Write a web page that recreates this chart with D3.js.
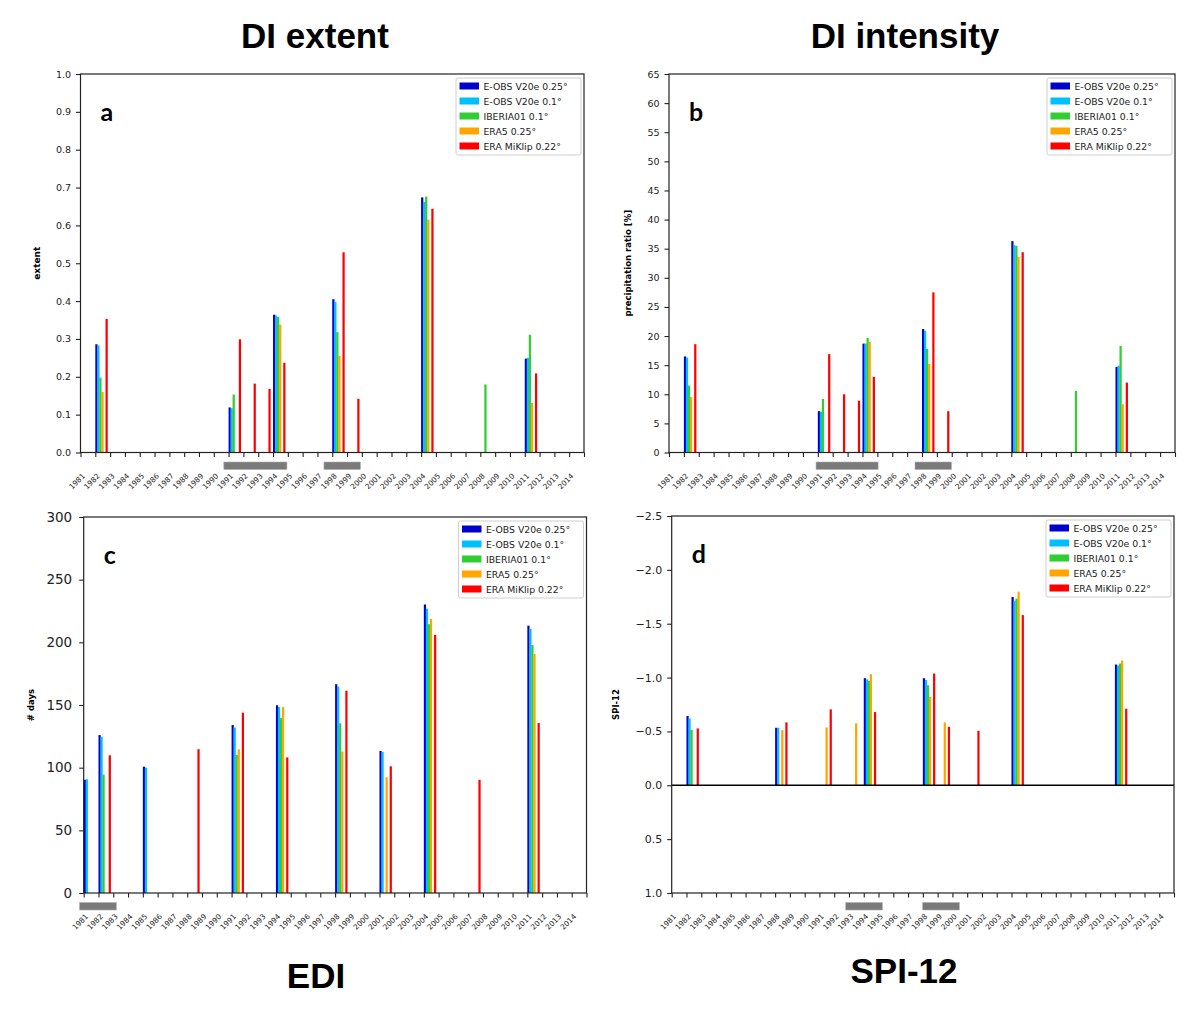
<!DOCTYPE html>
<html>
<head>
<meta charset="utf-8">
<script src="https://cdn.jsdelivr.net/npm/d3@7"></script>
<style>
  body { margin: 0; background: #fff; }
</style>
</head>
<body>
<svg id="chart" width="1200" height="1012" font-family="DejaVu Sans, sans-serif"></svg>
<script>
// series shared by all four panels
const seriesNames = ["E-OBS V20e 0.25°", "E-OBS V20e 0.1°", "IBERIA01 0.1°", "ERA5 0.25°", "ERA MiKlip 0.22°"];
const seriesColors = ["#0000cd", "#00bfff", "#32cd32", "#ffa500", "#ff0000"];
const yearTicks = d3.range(1981, 2016);
const yearLabels = d3.range(1981, 2015);

// a: DI extent
const yearsA = [1982, 1991, 1992, 1993, 1994, 1998, 1999, 2004, 2008, 2011];
const extEobs25 = [0.286, 0.119, 0, 0, 0.364, 0.405, 0, 0.674, 0, 0.248];
const extEobs01 = [0.283, 0.117, 0, 0, 0.362, 0.398, 0, 0.662, 0, 0.250];
const extIberia = [0.198, 0.153, 0, 0, 0.358, 0.318, 0, 0.676, 0.180, 0.311];
const extEra5   = [0.160, 0, 0, 0, 0.338, 0.255, 0, 0.615, 0, 0.131];
const extMiklip = [0.353, 0.299, 0.182, 0.168, 0.237, 0.529, 0.142, 0.644, 0, 0.209];
const periodsA = [[1990.68, 1994.94], [1997.44, 1999.9]];

// b: DI intensity
const yearsB = [1982, 1991, 1992, 1993, 1994, 1998, 1999, 2004, 2008, 2011];
const intEobs25 = [16.5, 7.1, 0, 0, 18.7, 21.2, 0, 36.3, 0, 14.7];
const intEobs01 = [16.3, 7.0, 0, 0, 18.7, 20.9, 0, 35.6, 0, 14.9];
const intIberia = [11.5, 9.2, 0, 0, 19.7, 17.8, 0, 35.5, 10.6, 18.3];
const intEra5   = [9.5, 0, 0, 0, 19.0, 15.2, 0, 33.6, 0, 8.3];
const intMiklip = [18.6, 16.9, 10.0, 8.9, 13.0, 27.5, 7.1, 34.4, 0, 12.0];
const periodsB = [[1990.88, 1995.05], [1997.53, 1999.98]];

// c: EDI (# days)
const yearsC = [1981, 1982, 1985, 1988, 1991, 1994, 1998, 2001, 2004, 2007, 2011];
const edEobs25 = [90.3, 126, 100.8, 0, 134, 149.8, 166.6, 113.3, 230.2, 0, 213.3];
const edEobs01 = [90.8, 124.6, 100, 0, 132, 148.4, 164.6, 112.6, 226.8, 0, 210.8];
const edIberia = [0, 94.5, 0, 0, 110.2, 139.5, 135.4, 0, 214.5, 0, 197.8];
const edEra5   = [0, 0, 0, 0, 114.7, 148.4, 112.8, 92.4, 218.7, 0, 190.8];
const edMiklip = [0, 109.9, 0, 114.7, 143.9, 108.2, 161.4, 101.1, 205.9, 90.3, 135.6];
const periodsC = [[1980.72, 1983.21]];

// d: SPI-12
const yearsD = [1982, 1988, 1991, 1993, 1994, 1998, 1999, 2001, 2004, 2011];
const spiEobs25 = [-0.643, -0.534, 0, 0, -0.994, -0.994, 0, 0, -1.748, -1.121];
const spiEobs01 = [-0.620, -0.534, 0, 0, -0.984, -0.978, 0, 0, -1.714, -1.112];
const spiIberia = [-0.515, 0, 0, 0, -0.969, -0.929, 0, 0, -1.733, -1.130];
const spiEra5   = [0, -0.512, -0.537, -0.575, -1.031, -0.820, -0.584, 0, -1.798, -1.158];
const spiMiklip = [-0.528, -0.584, -0.705, 0, -0.680, -1.037, -0.543, -0.506, -1.580, -0.711];
const periodsD = [[1992.78, 1995.26], [1997.99, 2000.47]];

// bar placement inside a year (years) and bar width
const barOffsets = [0, 0.135, 0.27, 0.41, 0.69];
const barWidth = 0.15;

const svg = d3.select("#chart");

const panels = [
  { letter: "a", left: 80.5, right: 584, top: 74, bottom: 452.5,
    yDomain: [0, 1], yTicks: d3.range(0, 1.01, 0.1), fmt: d3.format(".1f"), tickFont: 9.5, pad: 5,
    ylabel: "extent", ylabelX: 37, ylabelFont: 9,
    years: yearsA, series: [extEobs25, extEobs01, extIberia, extEra5, extMiklip], periods: periodsA },
  { letter: "b", left: 669, right: 1175, top: 74, bottom: 452.5,
    yDomain: [0, 65], yTicks: d3.range(0, 66, 5), fmt: d3.format("d"), tickFont: 9.5, pad: 5,
    ylabel: "precipitation ratio [%]", ylabelX: 628, ylabelFont: 8.5,
    years: yearsB, series: [intEobs25, intEobs01, intIberia, intEra5, intMiklip], periods: periodsB },
  { letter: "c", left: 83.7, right: 586.5, top: 517, bottom: 893,
    yDomain: [0, 300], yTicks: d3.range(0, 301, 50), fmt: d3.format("d"), tickFont: 13.5, pad: 7,
    ylabel: "# days", ylabelX: 31, ylabelFont: 8.5,
    years: yearsC, series: [edEobs25, edEobs01, edIberia, edEra5, edMiklip], periods: periodsC },
  { letter: "d", left: 671.7, right: 1174, top: 516, bottom: 893,
    yDomain: [1, -2.5], yTicks: d3.range(-2.5, 1.01, 0.5), fmt: d3.format(".1f"), tickFont: 11, pad: 5,
    ylabel: "SPI-12", ylabelX: 616, ylabelFont: 8.5, zeroLine: true,
    years: yearsD, series: [spiEobs25, spiEobs01, spiIberia, spiEra5, spiMiklip], periods: periodsD }
];

function drawPanel(p) {
  const g = svg.append("g");
  const x = d3.scaleLinear().domain([1981, 2015]).range([p.left, p.right]);
  const y = d3.scaleLinear().domain(p.yDomain).range([p.bottom, p.top]);

  // bars
  p.series.forEach((vals, s) => {
    const rows = p.years.map((yr, i) => ({ yr: yr, v: vals[i] })).filter(d => d.v !== 0);
    g.append("g").selectAll("rect").data(rows).join("rect")
      .attr("x", d => x(d.yr + barOffsets[s]))
      .attr("width", d => x(d.yr + barOffsets[s] + barWidth) - x(d.yr + barOffsets[s]))
      .attr("y", d => Math.min(y(0), y(d.v)))
      .attr("height", d => Math.abs(y(d.v) - y(0)))
      .attr("fill", seriesColors[s]);
  });

  if (p.zeroLine) {
    g.append("line")
      .attr("x1", p.left).attr("x2", p.right)
      .attr("y1", y(0)).attr("y2", y(0))
      .attr("stroke", "#000").attr("stroke-width", 1.6);
  }

  // frame
  g.append("rect")
    .attr("x", p.left).attr("y", p.top)
    .attr("width", p.right - p.left).attr("height", p.bottom - p.top)
    .attr("fill", "none").attr("stroke", "#222").attr("stroke-width", 1.2);

  // y axis
  const ya = g.append("g").attr("transform", `translate(${p.left},0)`)
    .call(d3.axisLeft(y).tickValues(p.yTicks).tickFormat(p.fmt).tickSize(4.5).tickPadding(p.pad));
  ya.attr("font-family", null);
  ya.select(".domain").remove();
  ya.selectAll("line").attr("stroke", "#222").attr("stroke-width", 1.1);
  ya.selectAll("text").attr("font-size", p.tickFont).attr("fill", "#222");

  // x axis ticks
  const xa = g.append("g").attr("transform", `translate(0,${p.bottom})`)
    .call(d3.axisBottom(x).tickValues(yearTicks).tickFormat("").tickSize(4.5));
  xa.select(".domain").remove();
  xa.selectAll("line").attr("stroke", "#222").attr("stroke-width", 1.1);

  // rotated year labels
  g.append("g").selectAll("text").data(yearLabels).join("text")
    .attr("transform", d => `translate(${x(d) + 5},${p.bottom + 24}) rotate(-45)`)
    .attr("text-anchor", "end")
    .attr("font-size", 7.4)
    .attr("fill", "#222")
    .text(d => d);

  // grey period bars below the axis
  g.append("g").selectAll("rect").data(p.periods).join("rect")
    .attr("x", d => x(d[0]))
    .attr("width", d => x(d[1]) - x(d[0]))
    .attr("y", p.bottom + 9.5)
    .attr("height", 7.5)
    .attr("fill", "#7a7a7a")
    .attr("stroke", "#b0b0b0")
    .attr("stroke-width", 0.6);

  // y label
  g.append("text")
    .attr("transform", `translate(${p.ylabelX},${(p.top + p.bottom) / 2}) rotate(-90)`)
    .attr("text-anchor", "middle")
    .attr("dominant-baseline", "central")
    .attr("font-size", p.ylabelFont)
    .attr("font-weight", "bold")
    .text(p.ylabel);

  // panel letter
  g.append("text")
    .attr("x", p.left + 20).attr("y", p.top + 47)
    .attr("font-family", "Lato, Open Sans, sans-serif")
    .attr("font-weight", "bold")
    .attr("font-size", 25)
    .text(p.letter);

  // legend
  const lw = 125, lh = 77;
  const lg = g.append("g").attr("transform", `translate(${p.right - 3 - lw},${p.top + 4})`);
  lg.append("rect").attr("width", lw).attr("height", lh).attr("rx", 2)
    .attr("fill", "#fff").attr("stroke", "#cfcfcf").attr("stroke-width", 1);
  seriesNames.forEach((name, i) => {
    const cy = 8 + i * 15;
    lg.append("rect").attr("x", 3.5).attr("y", cy - 3.5).attr("width", 19.5).attr("height", 7)
      .attr("fill", seriesColors[i]);
    lg.append("text").attr("x", 27.5).attr("y", cy).attr("dominant-baseline", "central")
      .attr("font-size", 9.3).attr("fill", "#222").text(name);
  });
}

panels.forEach(drawPanel);

// block titles
const titles = [
  { text: "DI extent", x: 315, y: 48 },
  { text: "DI intensity", x: 905, y: 48 },
  { text: "EDI", x: 316, y: 988 },
  { text: "SPI-12", x: 904, y: 983 }
];
svg.append("g").selectAll("text").data(titles).join("text")
  .attr("x", d => d.x).attr("y", d => d.y)
  .attr("text-anchor", "middle")
  .attr("font-family", "Liberation Sans, Arial, sans-serif")
  .attr("font-weight", "bold")
  .attr("font-size", 35)
  .text(d => d.text);
</script>
</body>
</html>
